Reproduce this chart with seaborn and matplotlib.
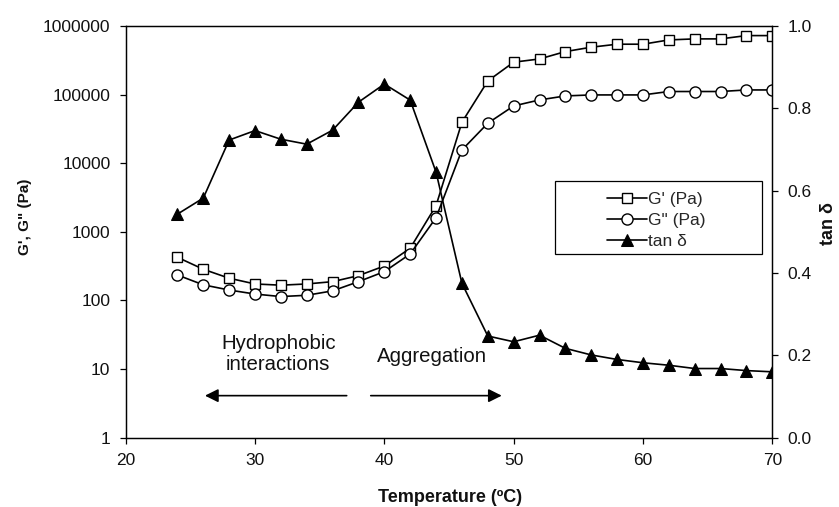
import matplotlib
matplotlib.use("Agg")
import matplotlib.pyplot as plt
import seaborn as sns
import numpy as np
from matplotlib.patches import Rectangle
from matplotlib.ticker import FixedLocator, FuncFormatter, NullLocator

temperature = [24, 26, 28, 30, 32, 34, 36, 38, 40, 42, 44, 46,
               48, 50, 52, 54, 56, 58, 60, 62, 64, 66, 68, 70]
g_storage = [426, 285, 211, 174, 167, 174, 188, 230, 318, 577, 2410, 39600,
             158000, 297000, 331000, 424000, 491000, 543000, 543000, 627000,
             649000, 649000, 725000, 725000]
g_loss = [235, 169, 142, 124, 114, 119, 138, 188, 263, 476, 1610, 15600,
          38300, 68400, 83700, 95700, 99000, 99000, 99000, 111000,
          111000, 111000, 117000, 117000]
tan_delta = [0.543, 0.582, 0.723, 0.746, 0.725, 0.713, 0.747, 0.815, 0.859,
             0.820, 0.645, 0.375, 0.247, 0.233, 0.249, 0.217, 0.201, 0.190,
             0.182, 0.176, 0.168, 0.168, 0.163, 0.160]

left_ticks = [1, 10, 100, 1000, 10000, 100000, 1000000]
right_ticks = [0.0, 0.2, 0.4, 0.6, 0.8, 1.0]
x_ticks = [20, 30, 40, 50, 60, 70]

sns.set_style("ticks")
plt.rcParams['font.family'] = ['Liberation Sans', 'DejaVu Sans']

fig = plt.figure(figsize=(8.39, 5.07), dpi=100)
ax = fig.add_axes([0.1498, 0.1367, 0.9205 - 0.1498, 0.9487 - 0.1367])
ax2 = ax.twinx()

lw = 1.2
sns.lineplot(x=temperature, y=g_storage, ax=ax, color='black', lw=lw,
             marker='s', markersize=7.5, markerfacecolor='white',
             markeredgecolor='black', markeredgewidth=1.0, label="G' (Pa)",
             legend=False)
sns.lineplot(x=temperature, y=g_loss, ax=ax, color='black', lw=lw,
             marker='o', markersize=8, markerfacecolor='white',
             markeredgecolor='black', markeredgewidth=1.0, label='G" (Pa)',
             legend=False)
sns.lineplot(x=temperature, y=tan_delta, ax=ax2, color='black', lw=lw,
             marker='^', markersize=9, markerfacecolor='black',
             markeredgecolor='black', label='tan δ', legend=False)

ax.set_yscale('log')
ax.set_ylim(1, 1000000)
ax.set_xlim(20, 70)
ax2.set_ylim(0, 1.0)

ax.yaxis.set_major_locator(FixedLocator(left_ticks))
ax.yaxis.set_minor_locator(NullLocator())
ax.yaxis.set_major_formatter(FuncFormatter(lambda v, p: f"{int(round(v))}"))
ax.set_xticks(x_ticks)
ax2.set_yticks(right_ticks)
ax2.yaxis.set_major_formatter(FuncFormatter(lambda v, p: f"{v:.1f}"))

fs = 12.5
for a in (ax, ax2):
    a.tick_params(axis='both', which='major', direction='out', length=4,
                  width=0.9, color='black', labelsize=fs, pad=7,
                  labelcolor='#111111')
    for s in a.spines.values():
        s.set_color('black')
        s.set_linewidth(0.9)
        s.set_visible(True)

ax.set_xlabel('')
ax.set_ylabel('')
ax2.set_ylabel('')
fig.text(0.5364, 0.0178, 'Temperature (ºC)', fontsize=13, fontweight='bold',
         ha='center', va='center', color='#111111')
fig.text(0.0298, 0.572, 'G\', G" (Pa)', fontsize=11, fontweight='bold',
         ha='center', va='center', rotation=90, color='#111111')
fig.text(0.988, 0.560, 'tan δ', fontsize=13, fontweight='bold',
         ha='center', va='center', rotation=90, color='#111111')

# annotations
afs = 14.7
ax.text(31.8, 16.6, 'Hydrophobic\ninteractions', ha='center', va='center',
        fontsize=afs, color='#111111', linespacing=1.15)
ax.text(43.7, 15.5, 'Aggregation', ha='center', va='center',
        fontsize=afs, color='#111111')
arrow_y = 4.1
ax.annotate('', xy=(26.13, arrow_y), xytext=(37.09, arrow_y),
            arrowprops=dict(arrowstyle='-|>', color='black', lw=1.2,
                            mutation_scale=20, shrinkA=0, shrinkB=0))
ax.annotate('', xy=(49.08, arrow_y), xytext=(38.95, arrow_y),
            arrowprops=dict(arrowstyle='-|>', color='black', lw=1.2,
                            mutation_scale=20, shrinkA=0, shrinkB=0))

# legend box
ax2.add_patch(Rectangle((0.664, 0.446), 0.984 - 0.664, 0.6235 - 0.446,
                        transform=ax2.transAxes, fill=True, facecolor='white',
                        edgecolor='black', lw=0.9, zorder=5))
h1, l1 = ax.get_legend_handles_labels()
h2, l2 = ax2.get_legend_handles_labels()
leg = ax2.legend(h1 + h2, l1 + l2, loc='upper left',
                 bbox_to_anchor=(0.744, 0.598), frameon=False, fontsize=fs,
                 handlelength=2.3, handletextpad=0.1, labelspacing=0.35,
                 borderpad=0, borderaxespad=0)
leg.set_zorder(6)

fig.savefig('out.png', dpi=100)
